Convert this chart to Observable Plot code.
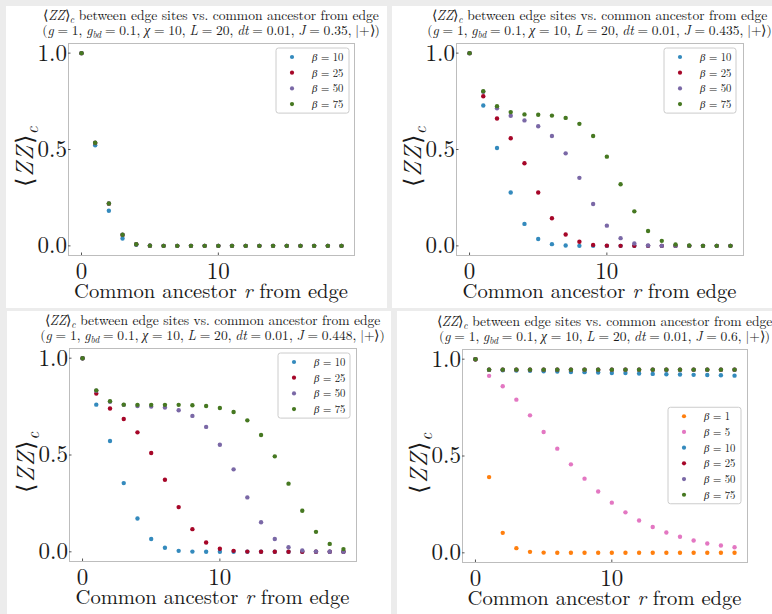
<!DOCTYPE html>
<html><head><meta charset="utf-8">
<script src="https://cdn.jsdelivr.net/npm/d3@7"></script>
<script src="https://cdn.jsdelivr.net/npm/@observablehq/plot@0.6"></script>
<style>
html,body{margin:0;padding:0;}
body{background:#ececec;width:772px;height:614px;overflow:hidden;position:relative;}
.panel{position:absolute;background:#fff;}
#overlay{position:absolute;left:0;top:0;pointer-events:none;}
</style></head>
<body>
<script>
// ---------- data ----------
const r = [0,1,2,3,4,5,6,7,8,9,10,11,12,13,14,15,16,17,18,19];
const xTicks = [0, 10];
const yTicks = [0, 0.5, 1.0];

// J = 0.35
const j035_b10 = [1,0.522,0.182,0.038,0.006,0.001,0,0,0,0,0,0,0,0,0,0,0,0,0,0];
const j035_b25 = [1,0.534,0.219,0.057,0.008,0.001,0,0,0,0,0,0,0,0,0,0,0,0,0,0];
const j035_b50 = [1,0.535,0.220,0.058,0.008,0.001,0,0,0,0,0,0,0,0,0,0,0,0,0,0];
const j035_b75 = [1,0.535,0.220,0.058,0.008,0.001,0,0,0,0,0,0,0,0,0,0,0,0,0,0];

// J = 0.435
const j0435_b10 = [1,0.728,0.508,0.277,0.114,0.036,0.009,0.002,0,0,0,0,0,0,0,0,0,0,0,0];
const j0435_b25 = [1,0.776,0.661,0.558,0.429,0.277,0.143,0.059,0.021,0.005,0.001,0,0,0,0,0,0,0,0,0];
const j0435_b50 = [1,0.800,0.714,0.675,0.651,0.621,0.570,0.480,0.353,0.217,0.105,0.040,0.012,0.002,0,0,0,0,0,0];
const j0435_b75 = [1,0.802,0.725,0.694,0.682,0.680,0.676,0.664,0.633,0.570,0.463,0.320,0.179,0.077,0.026,0.007,0.002,0,0,0];

// J = 0.448
const j0448_b10 = [1,0.760,0.572,0.355,0.172,0.066,0.021,0.005,0.001,0,0,0,0,0,0,0,0,0,0,0];
const j0448_b25 = [1,0.817,0.740,0.686,0.617,0.510,0.372,0.231,0.117,0.048,0.016,0.005,0.001,0,0,0,0,0,0,0];
const j0448_b50 = [1,0.832,0.775,0.759,0.753,0.750,0.745,0.731,0.702,0.645,0.553,0.426,0.281,0.153,0.066,0.024,0.007,0.001,0,0];
const j0448_b75 = [1,0.834,0.778,0.760,0.759,0.759,0.759,0.759,0.757,0.753,0.743,0.722,0.679,0.603,0.493,0.352,0.212,0.103,0.041,0.014];

// J = 0.6
const j06_b1  = [1,0.391,0.103,0.024,0.005,0.001,0,0,0,0,0,0,0,0,0,0,0,0,0,0];
const j06_b5  = [1,0.914,0.860,0.791,0.710,0.624,0.538,0.457,0.383,0.317,0.259,0.209,0.167,0.133,0.105,0.083,0.064,0.048,0.038,0.029];
const j06_b10 = [1,0.945,0.943,0.941,0.940,0.938,0.936,0.934,0.933,0.931,0.929,0.928,0.926,0.924,0.922,0.921,0.919,0.918,0.917,0.915];
const j06_b25 = [1,0.946,0.946,0.946,0.946,0.946,0.946,0.946,0.946,0.946,0.946,0.946,0.946,0.946,0.946,0.946,0.946,0.946,0.946,0.946];
const j06_b50 = [1,0.946,0.946,0.946,0.946,0.946,0.946,0.946,0.946,0.946,0.946,0.946,0.946,0.946,0.946,0.946,0.946,0.946,0.946,0.946];
const j06_b75 = [1,0.946,0.946,0.946,0.946,0.946,0.946,0.946,0.946,0.946,0.946,0.946,0.946,0.946,0.946,0.946,0.946,0.946,0.946,0.946];

const betaColors = {1:"#ff7f0e", 5:"#e377c2", 10:"#348abd", 25:"#a60628", 50:"#7a68a6", 75:"#467821"};

const panelData = [
  {J:"0.35",  betas:[10,25,50,75], values:[j035_b10,j035_b25,j035_b50,j035_b75]},
  {J:"0.435", betas:[10,25,50,75], values:[j0435_b10,j0435_b25,j0435_b50,j0435_b75]},
  {J:"0.448", betas:[10,25,50,75], values:[j0448_b10,j0448_b25,j0448_b50,j0448_b75]},
  {J:"0.6",   betas:[1,5,10,25,50,75], values:[j06_b1,j06_b5,j06_b10,j06_b25,j06_b50,j06_b75]}
];

// ---------- layout ----------
const layout = [
  {bg:[6,6,381,302],   frame:[68,43,286,212],  legend:[276,48,73],  legendCenter:false},
  {bg:[392,6,380,302], frame:[456,43,287,212], legend:[664,48,72],  legendCenter:false},
  {bg:[7,311,384,303], frame:[69,348,287,213], legend:[278,353,72], legendCenter:false},
  {bg:[397,311,375,303], frame:[462,349,285,213], legend:[668,0,73], legendCenter:true}
];
const ml = 60, mr = 6, mt = 6, mb = 36;
const FONT = "'Latin Modern Roman', 'Liberation Serif', serif";

layout.forEach((L, i) => {
  const bg = document.createElement("div");
  bg.className = "panel";
  Object.assign(bg.style, {left:L.bg[0]+"px", top:L.bg[1]+"px", width:L.bg[2]+"px", height:L.bg[3]+"px"});
  document.body.appendChild(bg);

  const P = panelData[i];
  const rows = [];
  P.betas.forEach((b, k) => r.forEach((rv, j) => rows.push({r: rv, v: P.values[k][j], beta: b})));
  const [fx, fy, fw, fh] = L.frame;
  const chart = Plot.plot({
    width: fw + ml + mr, height: fh + mt + mb,
    marginLeft: ml, marginRight: mr, marginTop: mt, marginBottom: mb,
    x: {domain: [-0.95, 19.95], label: null},
    y: {domain: [-0.05, 1.05], label: null},
    color: {type: "ordinal", domain: P.betas, range: P.betas.map(b => betaColors[b])},
    style: {fontFamily: FONT, fontSize: "23px", color: "#1a1a1a", background: "transparent", overflow: "visible"},
    marks: [
      Plot.frame({stroke: "#bdbdbd"}),
      Plot.axisY({ticks: yTicks, tickFormat: d3.format(".1f"), tickSize: -2.5, tickPadding: 4, stroke: "#555", fontFamily: FONT, fontSize: 23, label: null}),
      Plot.axisX({ticks: xTicks, tickFormat: d3.format("d"), tickSize: -2.5, tickPadding: 9.5, stroke: "#555", fontFamily: FONT, fontSize: 23, label: null}),
      Plot.dot(rows, {x: "r", y: "v", fill: "beta", r: 2.2})
    ]
  });
  chart.style.position = "absolute";
  chart.style.left = (fx - ml) + "px";
  chart.style.top = (fy - mt) + "px";
  document.body.appendChild(chart);
});

// ---------- overlay text ----------
const svg = d3.select(document.body).append("svg").attr("id","overlay")
  .attr("width",772).attr("height",614).attr("font-family", FONT).attr("fill","#1a1a1a");

function parse(str){
  const segs=[]; let it=false, sub=false, buf="";
  const flush=()=>{ if(buf) segs.push({t:buf,i:it,sub}); buf=""; };
  for (let k=0;k<str.length;k++){
    const ch=str[k];
    if(ch==="*"){flush(); it=!it;}
    else if(ch==="_" && str[k+1]==="{"){flush(); sub=true; k++;}
    else if(ch==="}" && sub){flush(); sub=false;}
    else buf+=ch;
  }
  flush(); return segs;
}
function rich(parent, str, size, x, y, anchor, transform, wordSpacing){
  const t = parent.append("text").attr("x",x).attr("y",y).attr("text-anchor",anchor||"start")
    .attr("font-size", size).attr("font-family", FONT);
  if (transform) t.attr("transform", transform);
  if (wordSpacing) t.style("word-spacing", wordSpacing + "px");
  let shift = 0;
  for (const s of parse(str)){
    const ts = t.append("tspan").text(s.t);
    if (s.i) ts.attr("font-style","italic");
    const target = s.sub ? size*0.2 : 0;
    if (target !== shift){ ts.attr("dy", target - shift); shift = target; }
    if (s.sub) ts.attr("font-size", size*0.7);
  }
  return t;
}
function measure(str, size){
  const t = rich(svg, str, size, 0, -100);
  const w = t.node().getComputedTextLength();
  t.remove();
  return w;
}
function fitSize(str, target){ return 20 * target / measure(str, 20); }

const title1 = "⟨*ZZ*⟩_{*c*} between edge sites vs. common ancestor from edge";
const title2 = J => `(*g* = 1, *g*_{*bd*} = 0.1, *χ* = 10, *L* = 20, *dt* = 0.01, *J* = ${J}, |+⟩)`;
const xLabel = "Common ancestor *r* from edge";
const yLabel = "⟨*ZZ*⟩_{*c*}";
const legendLabel = b => `*β* = ${b}`;

const titleSize = fitSize(title1, 337);
const w2 = measure(title2("0.35"), titleSize);
const title2Spacing = (337.7 - w2) / 18;
const xLabelSize = fitSize(xLabel, 274);
const legendSize = fitSize(legendLabel(10), 31.5);

layout.forEach((L, i) => {
  const P = panelData[i];
  const [fx, fy, fw, fh] = L.frame;
  const cx = fx + fw/2;
  rich(svg, title1, titleSize, cx, fy - 23, "middle");
  rich(svg, title2(P.J), titleSize, cx, fy - 8, "middle", null, title2Spacing);
  rich(svg, xLabel, xLabelSize, cx, fy + fh + 42.7, "middle");
  const ly = fy + fh/2 + 7, lx = fx - 35;
  rich(svg, yLabel, 24, lx, ly, "middle", `rotate(-90 ${lx} ${ly})`).style("letter-spacing", "1.5px");

  // legend
  const n = P.betas.length, rowH = 15.7;
  const lh = (n-1)*rowH + 18;
  const lxb = L.legend[0], lw = L.legend[2];
  const lyb = L.legendCenter ? fy + fh/2 - lh/2 : L.legend[1];
  svg.append("rect").attr("x",lxb).attr("y",lyb).attr("width",lw).attr("height",lh)
    .attr("rx",2.5).attr("fill","#fff").attr("fill-opacity",0.85).attr("stroke","#cccccc").attr("stroke-width",1);
  P.betas.forEach((b, k) => {
    const yc = lyb + 9 + k*rowH;
    svg.append("circle").attr("cx", lxb + 16).attr("cy", yc).attr("r", 2.1).attr("fill", betaColors[b]);
    rich(svg, legendLabel(b), legendSize, lxb + 36, yc + 4, "start");
  });
});
</script>
</body></html>
